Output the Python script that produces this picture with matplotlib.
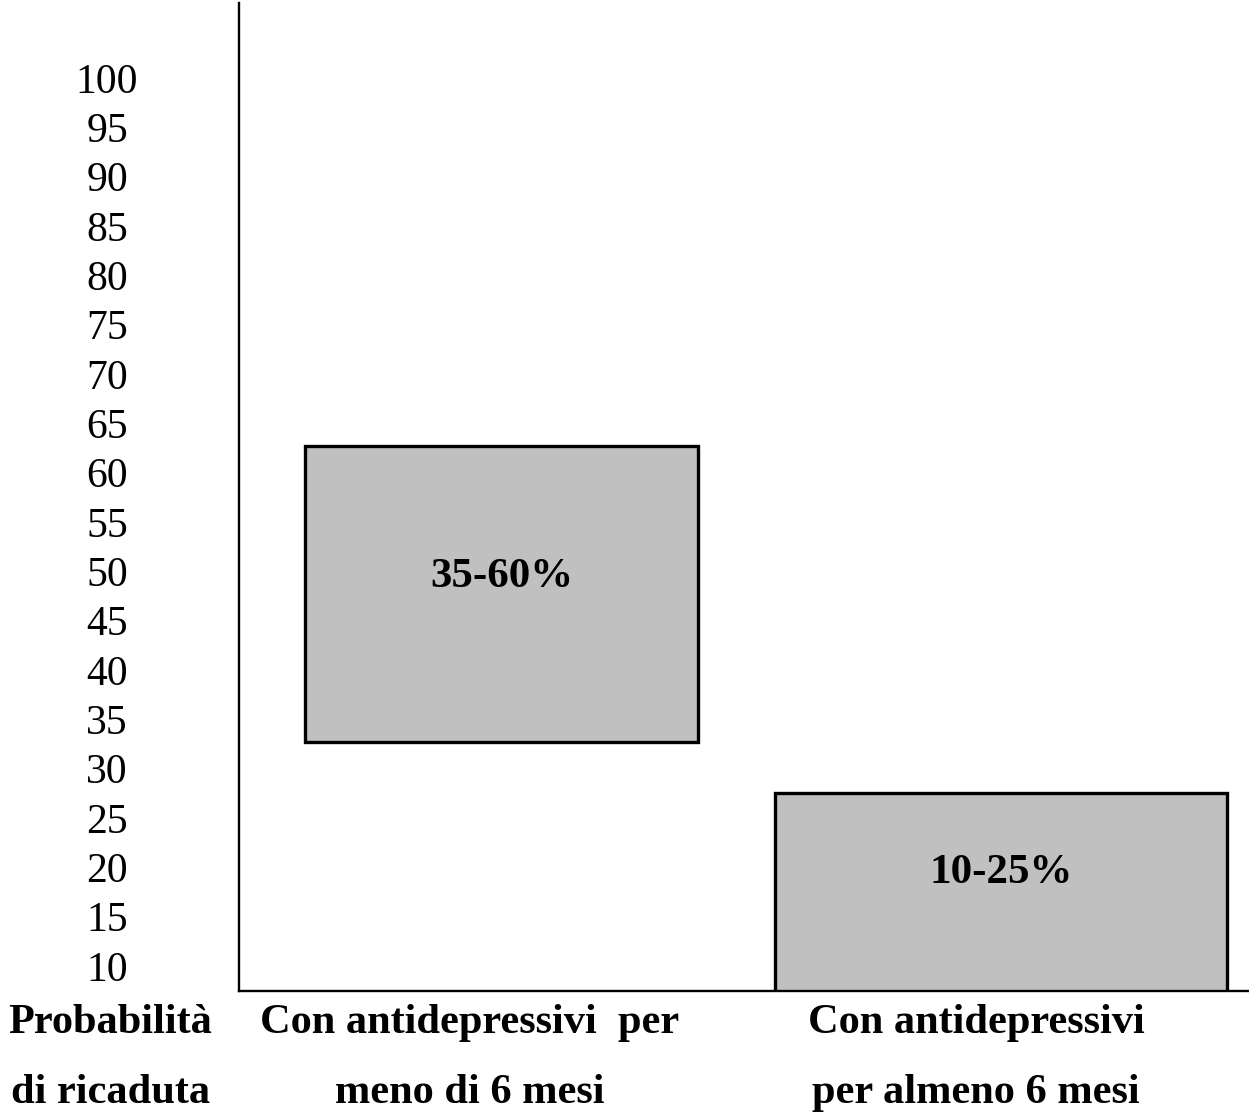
import matplotlib
matplotlib.use("Agg")
import matplotlib.pyplot as plt

# ---- data ----
categories = ["Con antidepressivi  per\nmeno di 6 mesi",
              "Con antidepressivi\nper almeno 6 mesi"]
bar_low = [32.7, 7.5]
bar_high = [62.7, 27.5]
bar_labels = ["35-60%", "10-25%"]
bar_label_y = [49.4, 19.4]
tick_values = list(range(10, 101, 5))
tick_labels = [str(v) for v in tick_values]
axis_title = "Probabilità\ndi ricaduta"

W, H = 1249, 1117
fig = plt.figure(figsize=(W / 100, H / 100), dpi=100)
plt.rcParams['font.family'] = ['Liberation Serif', 'DejaVu Serif']

ax_left, ax_bottom_px, ax_top_px, ax_right = 239, 991, 3, 1249
ax = fig.add_axes([ax_left / W, (H - ax_bottom_px) / H,
                   (ax_right - ax_left) / W, (ax_bottom_px - ax_top_px) / H])

# y scale: 100 at pixel 78, 9.867 px per unit
ax.set_ylim(7.47, 107.6)
ax.set_xlim(-0.5255, 1.4965)

x = [0, 1]
widths = [0.787, 0.905]
heights = [h - l for h, l in zip(bar_high, bar_low)]
ax.bar(x, heights, bottom=bar_low, width=widths, color="#c0c0c0",
       edgecolor="black", linewidth=2.4, zorder=3)

for xi, yl, lab in zip(x, bar_label_y, bar_labels):
    ax.text(xi, yl, lab, ha="center", va="center", fontsize=31,
            fontweight="bold", zorder=4)

ax.set_yticks(tick_values)
ax.set_yticklabels(tick_labels, fontsize=30)
ax.tick_params(axis="y", length=0, pad=95)
for t in ax.get_yticklabels():
    t.set_ha("center")
ax.set_xticks([])

for s in ["top", "right"]:
    ax.spines[s].set_visible(False)
ax.spines["left"].set_linewidth(1.7)
ax.spines["bottom"].set_linewidth(1.7)

# category labels (two lines each) below axis
def fig_text(px, py, s):
    fig.text(px / W, 1 - py / H, s, ha="center", va="center",
             fontsize=30.5, fontweight="bold")

cat_centers = [470, 976]
for cx, cat in zip(cat_centers, categories):
    l1, l2 = cat.split("\n")
    fig_text(cx, 1023, l1)
    fig_text(cx, 1093, l2)

t1, t2 = axis_title.split("\n")
fig_text(110, 1023, t1)
fig_text(111, 1093, t2)

fig.savefig("out.png", dpi=100)
